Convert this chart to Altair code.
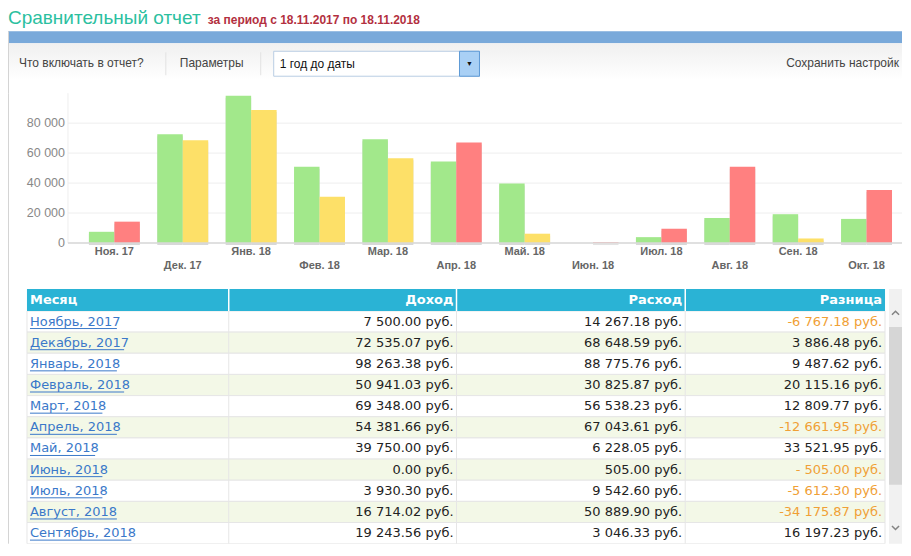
import altair as alt
import pandas as pd

# ---------------- data ----------------
months_short = ["Ноя. 17", "Дек. 17", "Янв. 18", "Фев. 18", "Мар. 18", "Апр. 18",
                "Май. 18", "Июн. 18", "Июл. 18", "Авг. 18", "Сен. 18", "Окт. 18"]
months_full = ["Ноябрь, 2017", "Декабрь, 2017", "Январь, 2018", "Февраль, 2018",
               "Март, 2018", "Апрель, 2018", "Май, 2018", "Июнь, 2018", "Июль, 2018",
               "Август, 2018", "Сентябрь, 2018", "Октябрь, 2018"]
income = [7500.00, 72535.07, 98263.38, 50941.03, 69348.00, 54381.66,
          39750.00, 0.00, 3930.30, 16714.02, 19243.56, 16100.00]
expense = [14267.18, 68648.59, 88775.76, 30825.87, 56538.23, 67043.61,
           6228.05, 505.00, 9542.60, 50889.90, 3046.33, 35400.00]
difference = [-6767.18, 3886.48, 9487.62, 20115.16, 12809.77, -12661.95,
              33521.95, -505.00, -5612.30, -34175.87, 16197.23, -19300.00]
y_ticks = [0, 20000, 40000, 60000, 80000]
headers = ["Месяц", "Доход", "Расход", "Разница"]
visible_rows = 11  # the table is scrolled: October is below the fold

title_main = "Сравнительный отчет"
title_sub = "за период с 18.11.2017 по 18.11.2018"
toolbar_items = ["Что включать в отчет?", "Параметры", "1 год до даты", "Сохранить настройки"]


def rub(v):
    s = f"{v:.2f}"
    ip, fp = s.split(".")
    groups = []
    while len(ip) > 3:
        groups.insert(0, ip[-3:])
        ip = ip[:-3]
    groups.insert(0, ip)
    return " ".join(groups) + "." + fp + " руб."


bar_rows = []
for i, m in enumerate(months_short):
    bar_rows.append(dict(month=m, kind="Доход", value=income[i], tone="inc"))
    bar_rows.append(dict(month=m, kind="Расход", value=expense[i],
                         tone="over" if expense[i] > income[i] else "ok"))
bars_df = pd.DataFrame(bar_rows)
ticks_df = pd.DataFrame({"v": y_ticks})

table_df = pd.DataFrame({
    "month": months_full,
    "inc_s": [rub(v) for v in income],
    "exp_s": [rub(v) for v in expense],
    "diff_s": [rub(v) for v in difference],
    "neg": [v < 0 for v in difference],
    "stripe": [i % 2 for i in range(len(months_full))],
}).iloc[:visible_rows]

one = pd.DataFrame({"a": [0]})
W = 895


def txt(t, x, y, **kw):
    return alt.Chart(one).mark_text(**kw).encode(
        x=alt.value(x), y=alt.value(y), text=alt.value(t))


def box(x, x2, y, y2, **kw):
    return alt.Chart(one).mark_rect(**kw).encode(
        x=alt.value(x), x2=alt.value(x2), y=alt.value(y), y2=alt.value(y2))


def vline(x, y, y2, **kw):
    return alt.Chart(one).mark_rule(**kw).encode(
        x=alt.value(x), y=alt.value(y), y2=alt.value(y2))


# ---------------- panel A : header + toolbar ----------------
tb_font = dict(font="Liberation Sans", fontSize=12, baseline="middle", align="left")
panel_a = alt.layer(
    txt(title_main, 0, 16, font="Liberation Sans", fontSize=19, color="#2bbf9f",
        align="left", baseline="alphabetic"),
    txt(title_sub, 200, 16, font="Liberation Sans", fontSize=12, fontWeight="bold",
        color="#b3303f", align="left", baseline="alphabetic"),
    box(0, W, 23, 35, color="#79a9da"),
    box(0, W, 35, 72, color={"gradient": "linear", "x1": 0, "x2": 0, "y1": 0, "y2": 1,
                             "stops": [{"offset": 0, "color": "#f0f0f0"},
                                       {"offset": 1, "color": "#ffffff"}]}),
    vline(0.5, 23, 85, color="#d4d4d4"),
    txt(toolbar_items[0], 11, 55, color="#444444", **tb_font),
    vline(158, 44, 67, color="#e2e2e2"),
    txt(toolbar_items[1], 172, 55, color="#444444", **tb_font),
    vline(253, 44, 67, color="#e2e2e2"),
    box(266, 472, 43, 68, color="#ffffff", stroke="#b9cde3"),
    box(452, 472, 43, 68, color="#a9d0f5", stroke="#5d9ad6"),
    txt("▼", 462, 56, fontSize=7, color="#111111", align="center", baseline="middle"),
    txt(toolbar_items[2], 272, 56, color="#111111", **tb_font),
    txt(toolbar_items[3], 779, 55, color="#444444", limit=W - 779, ellipsis="\u200b",
        **tb_font),
).properties(width=W, height=85)

# ---------------- panel B : bar chart ----------------
even_labels = months_short[1::2]
even_test = "indexof([" + ",".join(f"'{m}'" for m in even_labels) + "], datum.value) >= 0"
yscale = alt.Scale(domain=[0, 100000], nice=False)
PX = 60  # left edge of the plotting region inside the panel

base = alt.Chart(bars_df).encode(
    x=alt.X("month:N", sort=months_short,
            scale=alt.Scale(range=[PX + 21, PX + 825], paddingInner=0.255, paddingOuter=0),
            axis=alt.Axis(title=None, domain=False, ticks=False, labelAngle=0,
                          labelOverlap=False, labelFont="Liberation Sans",
                          labelFontWeight="bold", labelFontSize=11, labelColor="#666666",
                          labelPadding={"condition": {"test": even_test, "value": 16},
                                        "value": 2})),
    xOffset=alt.XOffset("kind:N", sort=["Доход", "Расход"],
                        scale=alt.Scale(paddingInner=0, paddingOuter=0)),
    y=alt.Y("value:Q", scale=yscale, axis=None),
)
shadow = base.mark_bar(color="#d8d8d8", xOffset=2, yOffset=2)
bars = base.mark_bar().encode(
    color=alt.Color("tone:N", legend=None,
                    scale=alt.Scale(domain=["inc", "ok", "over"],
                                    range=["#a2e88b", "#fde068", "#ff8080"])))
grid = alt.Chart(ticks_df).mark_rule(color="#eeeeee").encode(
    y=alt.Y("v:Q", scale=yscale, axis=None), x=alt.value(PX), x2=alt.value(W))
ylabels = alt.Chart(ticks_df).transform_calculate(
    lab="replace(format(datum.v, ','), ',', ' ')"
).mark_text(align="right", baseline="middle", font="Liberation Sans", fontSize=12.5,
            color="#888888").encode(
    y=alt.Y("v:Q", scale=yscale, axis=None), x=alt.value(PX - 3), text="lab:N")
baseline = alt.Chart(one).mark_rule(color="#d9d9d9", strokeWidth=1.5).encode(
    y=alt.datum(0, scale=yscale), x=alt.value(PX), x2=alt.value(W))
panel_b = alt.layer(
    vline(0.5, 0, 150, color="#d4d4d4"),
    vline(PX, 0, 150, color="#eeeeee"),
    grid, ylabels,
    shadow, bars, baseline,
).properties(width=W, height=150)

# ---------------- panel C : table ----------------
ROW0 = 68
HC = 301
STEP = (HC - ROW0) / visible_rows
yrow = alt.Y("month:N", sort=months_full[:visible_rows], axis=None,
             scale=alt.Scale(range=[ROW0, HC], paddingInner=0, paddingOuter=0))
tbase = alt.Chart(table_df).encode(y=yrow)
cell_font = dict(font="DejaVu Sans", fontSize=13, baseline="middle", clip=True)
col_x = [221, 449, 678]
TL, TR = 19, 878

row_bg = tbase.mark_rect(stroke="#e6e6e6", strokeWidth=1, clip=True).encode(
    x=alt.value(TL), x2=alt.value(TR),
    fill=alt.Fill("stripe:O", legend=None,
                  scale=alt.Scale(domain=[0, 1], range=["#ffffff", "#f3f8e7"])))
month_txt = tbase.mark_text(align="left", color="#3a78c9", **cell_font).encode(
    x=alt.value(22), text="month:N")
underline = tbase.transform_calculate(
    u0="22", u1="22 + 7.25 * length(datum.month)"
).mark_rule(color="#3a78c9", yOffset=7, clip=True).encode(
    x=alt.X("u0:Q", scale=alt.Scale(domain=[0, W], range=[0, W]), axis=None),
    x2="u1:Q")
inc_txt = tbase.mark_text(align="right", color="#222222", **cell_font).encode(
    x=alt.value(446), text="inc_s:N")
exp_txt = tbase.mark_text(align="right", color="#222222", **cell_font).encode(
    x=alt.value(675), text="exp_s:N")
diff_txt = tbase.mark_text(align="right", **cell_font).encode(
    x=alt.value(875), text="diff_s:N",
    color=alt.condition("datum.neg", alt.value("#f0a035"), alt.value("#222222")))

hdr_font = dict(font="DejaVu Sans", fontSize=13, fontWeight="bold", color="#ffffff",
                baseline="middle")
chevron_up = alt.Chart(one).mark_point(shape="M-1,0.5L0,-0.5L1,0.5", filled=False,
                                       stroke="#555555", strokeWidth=1.5, size=50).encode(
    x=alt.value(888.5), y=alt.value(70))
chevron_dn = alt.Chart(one).mark_point(shape="M-1,-0.5L0,0.5L1,-0.5", filled=False,
                                       stroke="#555555", strokeWidth=1.5, size=50).encode(
    x=alt.value(888.5), y=alt.value(285))

panel_c = alt.layer(
    vline(0.5, 0, HC, color="#d4d4d4"),
    row_bg,
    *[vline(cx, ROW0, HC, color="#e6e6e6") for cx in col_x],
    box(TL, TR, 46, ROW0, color="#2ab3d5"),
    *[vline(cx, 46, ROW0, color="#ffffff", strokeWidth=1.5) for cx in col_x],
    txt(headers[0], 22, 57, align="left", **hdr_font),
    txt(headers[1], 446, 57, align="right", **hdr_font),
    txt(headers[2], 675, 57, align="right", **hdr_font),
    txt(headers[3], 875, 57, align="right", **hdr_font),
    month_txt, underline, inc_txt, exp_txt, diff_txt,
    box(882, W, 46, HC, color="#f1f1f1"),
    box(882, W, 84, 242, color="#d6d6d6"),
    chevron_up, chevron_dn,
).properties(width=W, height=HC)

chart = alt.vconcat(panel_a, panel_b, panel_c, spacing=0, bounds="flush").configure_view(
    stroke=None).properties(padding=0, background="#ffffff")

chart.save("out.html", embed_options={"renderer": "svg", "actions": False})
